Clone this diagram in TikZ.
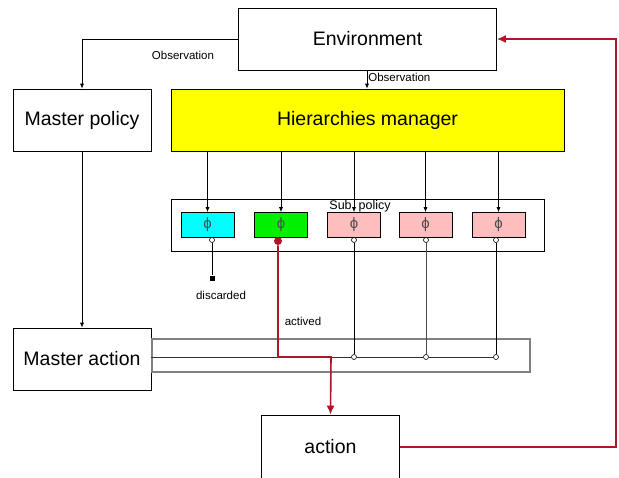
\documentclass[tikz,border=0pt]{standalone}
\usepackage{fontspec}
\setmainfont{Liberation Sans}
\usetikzlibrary{arrows.meta,positioning}
\tikzset{>={Latex[width=4pt,length=5pt]}}
\definecolor{actred}{RGB}{175,20,40}
\definecolor{phipink}{RGB}{255,190,190}
\definecolor{phigreen}{RGB}{0,240,0}
\definecolor{phicyan}{RGB}{0,255,255}
\definecolor{hmyellow}{RGB}{255,255,0}
\tikzset{
  block/.style={draw, line width=0.7pt, minimum width=138pt, minimum height=62pt, inner sep=0pt, font=\fontsize{19.5}{22}\selectfont},
  phibox/.style={draw, line width=0.7pt, minimum width=53pt, minimum height=25pt, inner sep=0pt, font=\fontsize{15}{17}\selectfont\color{black!70}},
  lbl/.style={inner sep=1pt, font=\fontsize{11.5}{13}\selectfont},
  port/.style={circle, draw, fill=white, line width=0.6pt, inner sep=0pt, minimum size=5pt},
  redline/.style={actred, line width=1.6pt, >={Latex[width=8pt,length=9pt]}},
}

\begin{document}
\begin{tikzpicture}[x=1pt, y=-1pt, line width=0.7pt]

  \useasboundingbox (0,0) rectangle (619,477);

  \node[block, minimum width=258pt] (env) at (367.5, 39) {Environment};
  \node[block] (mp) at (82, 120) {Master policy};
  \node[block, fill=hmyellow, minimum width=393pt] (hm) at (367.5, 120) {Hierarchies manager};
  \node[block] (ma) at (82, 359) {Master action};
  \node[block, minimum height=64pt] (act) at (330.5, 447) {action};

  %% sub policy frame
  \node[draw, minimum width=373pt, minimum height=52pt, inner sep=0pt] (frame) at (357.5, 225) {};
  \node[lbl, font=\fontsize{12.5}{14}\selectfont] (sub) at (360, 206) {Sub\ \ policy};

  \node[phibox, fill=phicyan] (p1) at (207.5, 225) {ϕ};
  \node[phibox, fill=phigreen] (p2) at (281, 225) {ϕ};
  \node[phibox, fill=phipink] (p3) at (354, 225) {ϕ};
  \node[phibox, fill=phipink] (p4) at (425.5, 225) {ϕ};
  \node[phibox, fill=phipink] (p5) at (498.5, 225) {ϕ};

  %% action bus
  \draw[gray, line width=1.2pt] (152, 339) rectangle (530, 372);

  \coordinate (bend) at (331, 357);
  \node[port] (q1) at (212, 240) {};
  \node[circle, fill=actred, inner sep=0pt, minimum size=8pt] (q2) at (278, 241) {};
  \node[port] (q3) at (354, 240) {};
  \node[port] (q4) at (426, 240) {};
  \node[port] (q5) at (496, 240) {};
  \node[port] (b3) at (354, 357) {};
  \node[port] (b4) at (426, 357) {};
  \node[port] (b5) at (496, 357) {};

  \node[fill=black, inner sep=0pt, minimum size=5pt] (drop) at (212, 278) {};
  \node[lbl] at (221, 295) {discarded};
  \node[lbl] at (303, 321) {actived};

  % Env -> MP, Env -> HM
  \draw[->] (env.west) -| (mp.north);
  \node[lbl] at (183, 55) {Observation};
  \draw[->] (env.south -| 367, 0) -- (hm.north -| 367, 0) node[lbl, right, pos=0.4] {Observation};

  % MP -> MA
  \draw[->] (mp.south) -- (ma.north);

  % HM -> sub policies
  \foreach \p in {p1,p2,p3,p4,p5}
    \draw[->] (hm.south -| \p.north) -- (\p.north);

  % sub policies -> bus
  \draw (q1) -- (drop);
  \draw (q3) -- (b3);
  \draw[black!70] (q4) -- (b4);
  \draw (q5) -- (b5);
  \draw[black!80] (ma.east |- b5) -- (b3) -- (b4) -- (b5);

  % actived -> action -> Env
  \draw[redline, ->] (q2) |- (bend) -- (act.north);
  \coordinate (ret) at (616, 447);
  \draw[redline, ->] (act.east) -- (ret) |- (env.east);

\end{tikzpicture}
\end{document}
